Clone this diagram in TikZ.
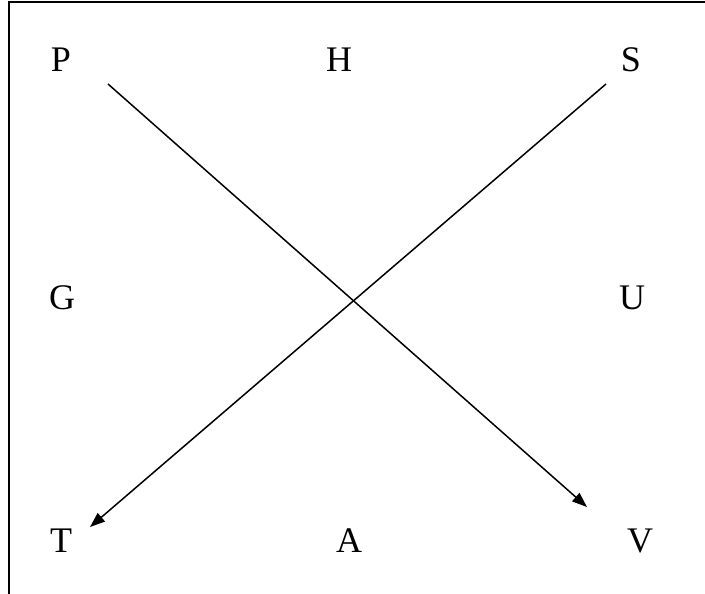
\documentclass[tikz,border=0pt]{standalone}
\usepackage{fontspec}
\setmainfont{Liberation Serif}
\usetikzlibrary{arrows.meta}
\begin{document}
\begin{tikzpicture}[x=1pt,y=-1pt,
  lbl/.style={anchor=base,inner sep=0pt,font=\fontsize{36}{40}\selectfont},
  conn/.style={line width=1.5pt,-{Triangle[length=15pt,width=11pt]}},
  frame/.style={line width=2pt}]
\useasboundingbox (0,0) rectangle (705,594);
\draw[frame] (8.5,594) -- (8.5,2.5) -- (705,2.5);
\node[lbl] (P) at (61,72) {P};
\node[lbl] (H) at (339,72) {H};
\node[lbl] (S) at (631,72) {S};
\node[lbl] (G) at (62,309) {G};
\node[lbl] (U) at (632,309) {U};
\node[lbl] (T) at (61,552) {T};
\node[lbl] (A) at (349,552) {A};
\node[lbl] (V) at (640,552) {V};
\coordinate (pstart) at (108,84);
\coordinate (vend) at (587,507);
\coordinate (sstart) at (606,84);
\coordinate (tend) at (90,527);
\draw[conn] (pstart) -- (vend);
\draw[conn] (sstart) -- (tend);
\end{tikzpicture}
\end{document}
